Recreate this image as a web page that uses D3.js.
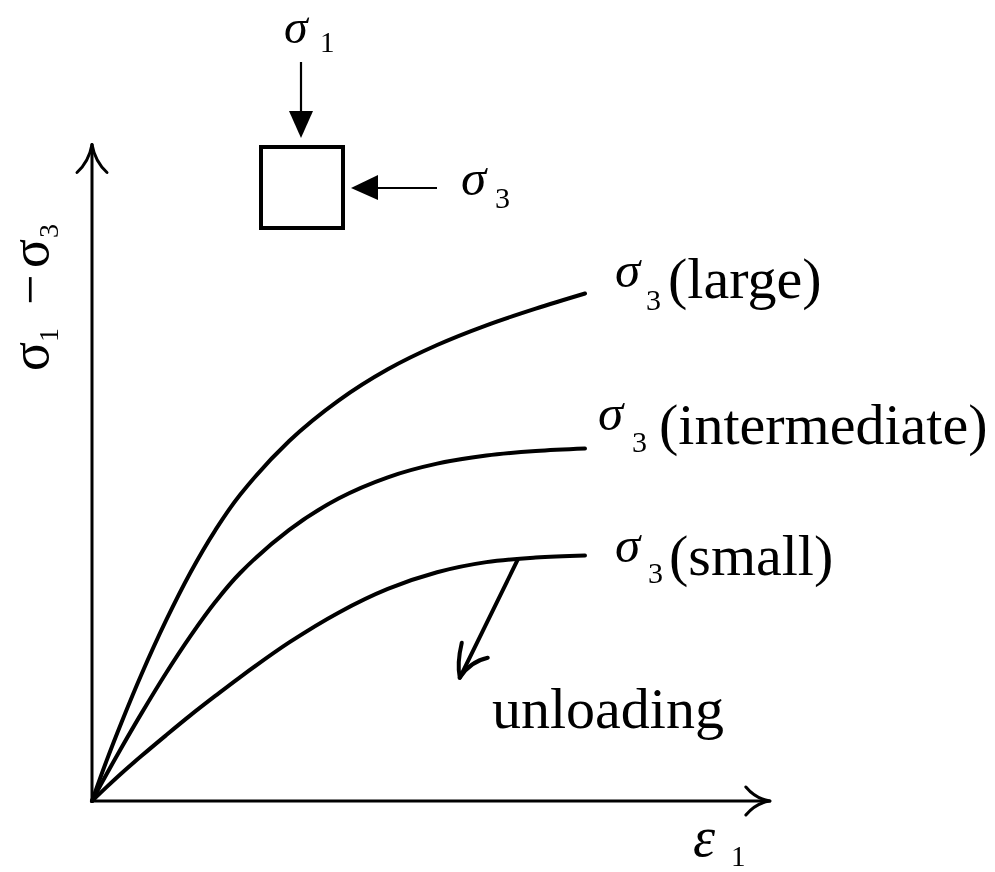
<!DOCTYPE html>
<html>
<head>
<meta charset="utf-8">
<script src="https://cdn.jsdelivr.net/npm/d3@7"></script>
<style>
  html, body { margin: 0; padding: 0; background: #fff; }
  svg { display: block; will-change: transform; }
  text { font-family: "Liberation Serif", "Times New Roman", serif; fill: #000; }
</style>
</head>
<body>
<svg id="chart" width="995" height="872"></svg>
<script>
// Axial strain samples shared by all three loading curves
const strain = [0, 0.3, 0.6, 1, 1.5, 2, 2.5, 3, 4, 5, 6, 7, 8, 9, 10];

// Deviator stress (σ1 − σ3) for each confining pressure level
const stressLarge        = [0, 0.81, 1.56, 2.50, 3.57, 4.53, 5.36, 6.06, 7.13, 7.93, 8.55, 9.03, 9.42, 9.75, 10.05];
const stressIntermediate = [0, 0.54, 1.06, 1.73, 2.53, 3.27, 3.94, 4.51, 5.37, 5.99, 6.41, 6.68, 6.84, 6.93, 6.98];
const stressSmall        = [0, 0.28, 0.55, 0.89, 1.30, 1.70, 2.08, 2.45, 3.14, 3.73, 4.20, 4.53, 4.73, 4.82, 4.86];

// Curve labels (confining pressure level)
const levels = ["(large)", "(intermediate)", "(small)"];

// Unloading branch: leaves the small-σ3 curve at this strain and heads to this point
const unloadFromStrain = 8.64;
const unloadTo = [7.46, 2.44];

// Axis extents
const strainMax = 13.75;
const stressMax = 13;

const svg = d3.select("#chart");

const x = d3.scaleLinear().domain([0, 14]).range([92, 92 + 14 * 49.3]);
const y = d3.scaleLinear().domain([0, 13]).range([801, 144.5]);

// ---- axes with open arrow heads ----
const ax = svg.append("g").attr("stroke", "#000").attr("fill", "none")
  .attr("stroke-width", 3).attr("stroke-linecap", "round").attr("stroke-linejoin", "round");

ax.append("line").attr("x1", x(0)).attr("y1", y(0)).attr("x2", x(0)).attr("y2", y(stressMax));
ax.append("line").attr("x1", x(0)).attr("y1", y(0)).attr("x2", x(strainMax)).attr("y2", y(0));

{
  const tx = x(0), ty = y(stressMax);
  ax.append("path").attr("d",
    `M${tx - 15},${ty + 28} Q${tx - 3},${ty + 17} ${tx},${ty} Q${tx + 3},${ty + 17} ${tx + 15},${ty + 28}`);
}
{
  const tx = x(strainMax), ty = y(0);
  ax.append("path").attr("d",
    `M${tx - 24},${ty - 14} Q${tx - 14},${ty - 2} ${tx},${ty} Q${tx - 14},${ty + 2} ${tx - 24},${ty + 14}`);
}

// ---- stress–strain curves ----
const line = d3.line()
  .x(d => x(d[0]))
  .y(d => y(d[1]))
  .curve(d3.curveCatmullRom.alpha(0.5));

const series = [stressLarge, stressIntermediate, stressSmall];

svg.append("g")
  .selectAll("path")
  .data(series)
  .join("path")
  .attr("d", s => line(strain.map((e, i) => [e, s[i]])))
  .attr("fill", "none")
  .attr("stroke", "#000")
  .attr("stroke-width", 4)
  .attr("stroke-linecap", "round");

// ---- unloading arrow ----
{
  const yStart = d3.scaleLinear().domain(strain).range(stressSmall)(unloadFromStrain);
  const x0 = x(unloadFromStrain), y0 = y(yStart);
  const x1 = x(unloadTo[0]), y1 = y(unloadTo[1]);
  const g = svg.append("g").attr("stroke", "#000").attr("fill", "none")
    .attr("stroke-width", 4).attr("stroke-linecap", "round").attr("stroke-linejoin", "round");
  g.append("line").attr("x1", x0).attr("y1", y0).attr("x2", x1).attr("y2", y1);
  g.append("path").attr("d",
    `M${x1 + 2},${y1 - 35} Q${x1 - 3},${y1 - 14} ${x1},${y1} Q${x1 + 10},${y1 - 16} ${x1 + 28},${y1 - 20}`);
}

// ---- curve labels ----
const labelPos = [
  { sx: 615, sy: 287, nx: 646, ny: 310, tx: 668, ty: 298 },
  { sx: 598, sy: 430, nx: 632, ny: 452, tx: 659, ty: 444 },
  { sx: 615, sy: 562, nx: 648, ny: 583, tx: 669, ty: 575 }
];

const lab = svg.append("g");
levels.forEach((txt, i) => {
  const p = labelPos[i];
  lab.append("text").attr("x", p.sx).attr("y", p.sy)
    .attr("font-size", 51).attr("font-style", "italic").text("σ");
  lab.append("text").attr("x", p.nx).attr("y", p.ny)
    .attr("font-size", 30).text("3");
  lab.append("text").attr("x", p.tx).attr("y", p.ty)
    .attr("font-size", 58).text(txt);
});

lab.append("text").attr("x", 492).attr("y", 728).attr("font-size", 58).text("unloading");

// ---- axis titles ----
lab.append("text").attr("x", 693).attr("y", 856).attr("font-size", 56).attr("font-style", "italic").text("ε");
lab.append("text").attr("x", 731).attr("y", 866).attr("font-size", 29).text("1");

const yl = lab.append("g").attr("transform", "translate(48,373) rotate(-90)");
yl.append("text").attr("x", 2).attr("y", 0).attr("font-size", 54).text("σ");
yl.append("text").attr("x", 31).attr("y", 10).attr("font-size", 28).text("1");
yl.append("text").attr("x", 68).attr("y", 0).attr("font-size", 54).text("−");
yl.append("text").attr("x", 105).attr("y", 0).attr("font-size", 54).text("σ");
yl.append("text").attr("x", 135).attr("y", 10).attr("font-size", 28).text("3");

// ---- stress element with applied principal stresses ----
const el = svg.append("g");
el.append("rect").attr("x", 261).attr("y", 147).attr("width", 82).attr("height", 81)
  .attr("fill", "none").attr("stroke", "#000").attr("stroke-width", 4);

el.append("line").attr("x1", 301).attr("y1", 62).attr("x2", 301).attr("y2", 116)
  .attr("stroke", "#000").attr("stroke-width", 2.2);
el.append("path").attr("d", "M289,111 L313,111 L301,138 Z").attr("fill", "#000");

el.append("line").attr("x1", 437).attr("y1", 188).attr("x2", 372).attr("y2", 188)
  .attr("stroke", "#000").attr("stroke-width", 2.2);
el.append("path").attr("d", "M378,175 L378,200 L351,188 Z").attr("fill", "#000");

el.append("text").attr("x", 284).attr("y", 43).attr("font-size", 48).attr("font-style", "italic").text("σ");
el.append("text").attr("x", 320).attr("y", 52).attr("font-size", 29).text("1");
el.append("text").attr("x", 461).attr("y", 195).attr("font-size", 51).attr("font-style", "italic").text("σ");
el.append("text").attr("x", 495).attr("y", 208).attr("font-size", 30).text("3");
</script>
</body>
</html>
